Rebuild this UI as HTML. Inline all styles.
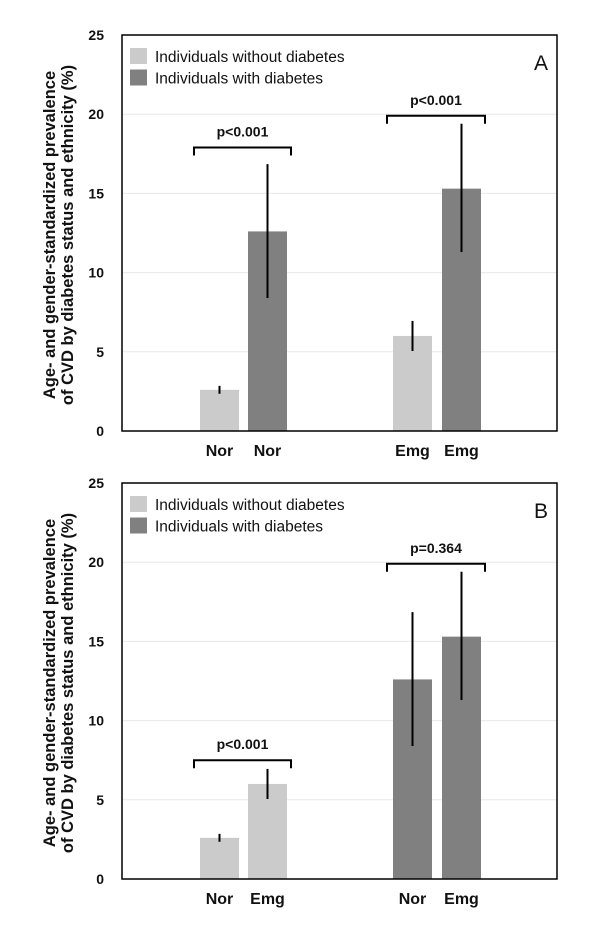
<!DOCTYPE html>
<html><head><meta charset="utf-8"><style>
body{margin:0;background:#fff}
svg{display:block;font-family:"Liberation Sans",Arial,sans-serif}
</style></head><body>
<svg id="c" width="600" height="936" viewBox="0 0 600 936"></svg>
<script>
const yTicks=[0,5,10,15,20,25];
const panelLabels=["A","B"];
const catsA=["Nor","Nor","Emg","Emg"];
const valsA=[2.6,12.6,6.0,15.3];
const loA=[2.35,8.4,5.05,11.3];
const hiA=[2.85,16.85,6.95,19.4];
const colA=["light","dark","light","dark"];
const catsB=["Nor","Emg","Nor","Emg"];
const valsB=[2.6,6.0,12.6,15.3];
const loB=[2.35,5.05,8.4,11.3];
const hiB=[2.85,6.95,16.85,19.4];
const colB=["light","light","dark","dark"];
const pA=["p<0.001","p<0.001"];
const pB=["p<0.001","p=0.364"];
const bracketYA=[17.9,19.9];
const bracketYB=[7.5,19.9];

const NS="http://www.w3.org/2000/svg";
const svg=document.getElementById('c');
function mk(t,a,p){const e=document.createElementNS(NS,t);for(const k in a)e.setAttribute(k,a[k]);(p||svg).appendChild(e);return e;}
const L=122,R=557,barX=[200,248,393,442],barW=39;
const colors={light:"#cbcbcb",dark:"#808080"};
function panel(idx,top,cats,vals,lo,hi,cols,ps,bys){
  const bot=top+396;
  const g=mk('g',{});
  
  
  const y=v=>bot-(v/25)*(bot-top);
  yTicks.forEach(t=>{
    if(t>0&&t<25){const gl=mk('line',{x1:L,x2:R,y1:y(t),y2:y(t),stroke:"#e8e8e8","stroke-width":1},g);
    }
    const tx=mk('text',{x:104,y:y(t)+5,"text-anchor":"end","font-size":14,"font-weight":"bold",fill:"#111"},g);
    tx.textContent=t;
    
  });
  vals.forEach((v,i)=>{
    const b=mk('rect',{x:barX[i],y:y(v),width:barW,height:bot-y(v),fill:colors[cols[i]]},g);
    
    
    const cx=barX[i]+barW/2;
    const e=mk('line',{x1:cx,x2:cx,y1:y(hi[i]),y2:y(lo[i]),stroke:"#000","stroke-width":2},g);
    
    
    const xl=mk('text',{x:cx,y:bot+25,"text-anchor":"middle","font-size":16,"font-weight":"bold",fill:"#111"},g);
    xl.textContent=cats[i];
    
    
  });
  [[0,1],[2,3]].forEach((pr,k)=>{
    const x1=barX[pr[0]]-6,x2=barX[pr[1]]+barW+4,by=y(bys[k]);
    const br=mk('path',{d:`M${x1},${by+8}V${by}H${x2}V${by+8}`,fill:"none",stroke:"#000","stroke-width":2},g);
    
    
    const pt=mk('text',{x:(x1+x2)/2,y:by-11,"text-anchor":"middle","font-size":14,"font-weight":"bold",fill:"#111"},g);
    pt.textContent=ps[k];
    
    
  });
  const fr=mk('rect',{x:L,y:top,width:R-L,height:bot-top,fill:"none",stroke:"#000","stroke-width":1.5},g);
  
  const leg=[["light","Individuals without diabetes"],["dark","Individuals with diabetes"]];
  leg.forEach((l,k)=>{
    const sw=mk('rect',{x:130,y:top+13+k*21.5,width:17,height:16,fill:colors[l[0]]},g);
    
    const lt=mk('text',{x:155,y:top+27+k*21.5,"font-size":15.5,fill:"#111"},g);
    lt.textContent=l[1];
    
  });
  const pl=mk('text',{x:541,y:top+35,"text-anchor":"middle","font-size":21,fill:"#111"},g);
  pl.textContent=panelLabels[idx];
  
  const cy=(top+bot)/2+2;
  const t1=mk('text',{x:0,y:0,"text-anchor":"middle","font-size":16.5,"font-weight":"bold",fill:"#111",transform:`translate(55,${cy}) rotate(-90)`},g);
  t1.textContent="Age- and gender-standardized prevalence";
  
  const t2=mk('text',{x:0,y:0,"text-anchor":"middle","font-size":16.5,"font-weight":"bold",fill:"#111",transform:`translate(73,${cy}) rotate(-90)`},g);
  t2.textContent="of CVD by diabetes status and ethnicity (%)";
  
}
panel(0,35,catsA,valsA,loA,hiA,colA,pA,bracketYA);
panel(1,483,catsB,valsB,loB,hiB,colB,pB,bracketYB);
</script>
</body></html>
